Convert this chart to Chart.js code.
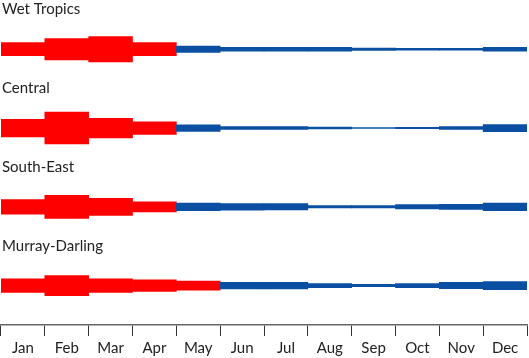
<!DOCTYPE html>
<html>
<head>
<meta charset="utf-8">
<script src="https://cdn.jsdelivr.net/npm/chart.js@4"></script>
<style>
  html, body { margin: 0; padding: 0; background: #fff; }
  canvas { display: block; }
</style>
</head>
<body>
<canvas id="myChart" width="529" height="358"></canvas>
<script>
// months along the bottom
const months = ['Jan', 'Feb', 'Mar', 'Apr', 'May', 'Jun', 'Jul', 'Aug', 'Sep', 'Oct', 'Nov', 'Dec'];
// regions, top to bottom
const regions = ['Wet Tropics', 'Central', 'South-East', 'Murray-Darling'];

// band thickness per month (relative units)
const wetTropics = [13, 21, 25, 13, 6.5, 4, 4, 4, 2.5, 1.8, 2, 4];
const central = [17.5, 31.5, 19.5, 12.5, 6.5, 2.7, 3, 1.7, 1, 1.3, 2.7, 7];
const southEast = [14.5, 23, 17, 10, 7.5, 6.5, 6.3, 2.3, 2.3, 4.3, 5, 7.5];
const murrayDarling = [13.5, 20, 13.5, 11.5, 9, 6.5, 6.5, 4, 2.3, 4, 6.3, 8];

// how many months count as the "wet" (red) season for each region
const wetMonths = [4, 4, 4, 5];

const series = [wetTropics, central, southEast, murrayDarling];
const rowScale = 78.3; // thickness units per row spacing
const red = '#ff0000';
const blue = '#0a4fa2';

const datasets = series.map((vals, r) => {
    const centre = regions.length - 1 - r;
    return {
        label: regions[r],
        data: vals.map(v => [centre - v / rowScale / 2, centre + v / rowScale / 2]),
        backgroundColor: vals.map((v, i) => i < wetMonths[r] ? red : blue),
        borderWidth: 0,
        borderSkipped: false,
        grouped: false,
        barPercentage: 1,
        categoryPercentage: 1
    };
});

// region names above each band
const regionLabels = {
    id: 'regionLabels',
    afterDatasetsDraw(chart) {
        const ctx = chart.ctx;
        const y = chart.scales.y;
        ctx.save();
        ctx.font = '15px Lato';
        ctx.fillStyle = '#222';
        ctx.textBaseline = 'alphabetic';
        ctx.textAlign = 'left';
        regions.forEach((name, r) => {
            const centre = regions.length - 1 - r;
            ctx.fillText(name, 2, y.getPixelForValue(centre) - 35);
        });
        ctx.restore();
    }
};

const ctx = document.getElementById('myChart').getContext('2d');
const myChart = new Chart(ctx, {
    type: 'bar',
    data: {
        labels: months,
        datasets: datasets
    },
    options: {
        responsive: false,
        animation: false,
        layout: { padding: { left: 1, right: 2, top: 0, bottom: -2 } },
        plugins: {
            legend: { display: false },
            tooltip: { enabled: false }
        },
        scales: {
            x: {
                grid: {
                    offset: true,
                    drawOnChartArea: false,
                    drawTicks: true,
                    tickLength: 11,
                    color: '#333',
                    lineWidth: 1
                },
                border: { display: true, color: '#666', width: 1.5 },
                ticks: {
                    color: '#222',
                    padding: 3,
                    font: { family: 'Lato', size: 15 },
                    maxRotation: 0,
                    autoSkip: false
                }
            },
            y: {
                display: false,
                min: -0.5,
                max: 3.625
            }
        }
    },
    plugins: [regionLabels]
});
</script>
</body>
</html>
